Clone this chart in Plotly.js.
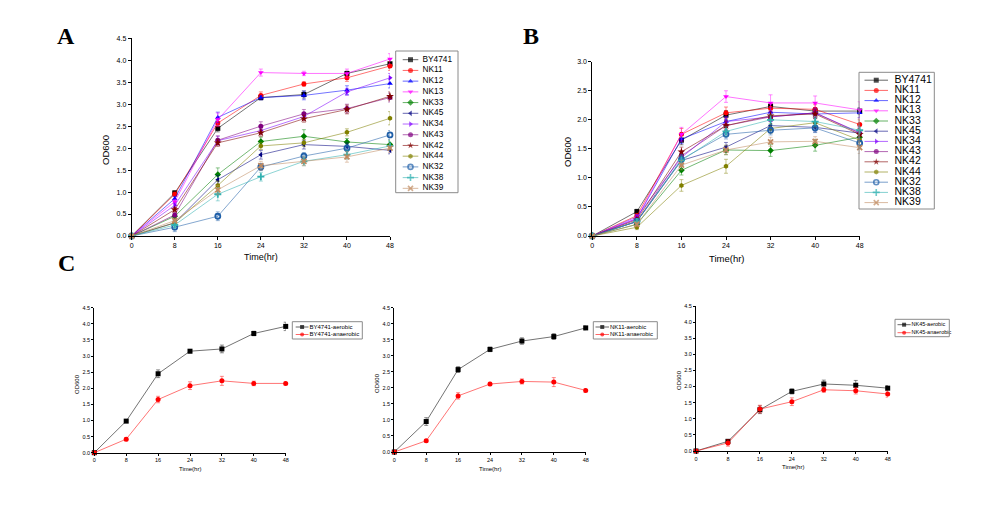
<!DOCTYPE html>
<html>
<head>
<meta charset="utf-8">
<script src="https://cdn.plot.ly/plotly-3.0.1.min.js"></script>
<style>html,body{margin:0;padding:0;background:#fff;}#chart{width:993px;height:507px;}</style>
</head>
<body>
<div id="chart"></div>
<script>
// ---------- DATA ----------
const times = [0, 8, 16, 24, 32, 40, 48];
const strains = ['BY4741','NK11','NK12','NK13','NK33','NK45','NK34','NK43','NK42','NK44','NK32','NK38','NK39'];

// Panel A (aerobic) OD600
const A_BY4741 = [0, 0.98, 2.45, 3.15, 3.22, 3.70, 3.92];
const A_NK11   = [0, 0.95, 2.57, 3.20, 3.46, 3.60, 3.87];
const A_NK12   = [0, 0.85, 2.70, 3.15, 3.20, 3.32, 3.47];
const A_NK13   = [0, 0.78, 2.65, 3.72, 3.70, 3.70, 4.03];
const A_NK33   = [0, 0.45, 1.40, 2.15, 2.27, 2.14, 2.08];
const A_NK45   = [0, 0.30, 1.28, 1.85, 2.08, 2.04, 1.95];
const A_NK34   = [0, 0.70, 2.17, 2.40, 2.72, 3.28, 3.60];
const A_NK43   = [0, 0.48, 2.18, 2.50, 2.78, 2.90, 3.15];
const A_NK42   = [0, 0.60, 2.12, 2.35, 2.67, 2.88, 3.18];
const A_NK44   = [0, 0.30, 1.15, 2.05, 2.12, 2.36, 2.68];
const A_NK32   = [0, 0.20, 0.45, 1.57, 1.82, 2.00, 2.30];
const A_NK38   = [0, 0.25, 0.95, 1.35, 1.70, 1.85, 2.05];
const A_NK39   = [0, 0.35, 1.05, 1.60, 1.70, 1.80, 2.00];
const A_err = [
  [0,0.05,0.08,0.05,0.08,0.05,0.10],
  [0,0.05,0.08,0.08,0.05,0.08,0.10],
  [0,0.05,0.12,0.05,0.10,0.10,0.10],
  [0,0.05,0.15,0.08,0.05,0.10,0.12],
  [0,0.05,0.15,0.10,0.15,0.08,0.10],
  [0,0.05,0.10,0.10,0.10,0.08,0.08],
  [0,0.05,0.10,0.08,0.08,0.08,0.10],
  [0,0.05,0.10,0.10,0.10,0.10,0.10],
  [0,0.05,0.08,0.08,0.08,0.10,0.10],
  [0,0.05,0.10,0.08,0.08,0.08,0.15],
  [0,0.10,0.10,0.08,0.08,0.08,0.10],
  [0,0.05,0.15,0.10,0.10,0.10,0.10],
  [0,0.05,0.10,0.10,0.10,0.12,0.10]
];

// Panel B (anaerobic) OD600
const B_BY4741 = [0, 0.42, 1.65, 2.08, 2.23, 2.15, 2.15];
const B_NK11   = [0, 0.35, 1.75, 2.12, 2.20, 2.18, 1.92];
const B_NK12   = [0, 0.30, 1.67, 1.97, 2.13, 2.10, 2.12];
const B_NK13   = [0, 0.30, 1.75, 2.40, 2.29, 2.29, 2.17];
const B_NK33   = [0, 0.20, 1.13, 1.48, 1.47, 1.56, 1.70];
const B_NK45   = [0, 0.25, 1.30, 1.53, 1.90, 1.87, 1.77];
const B_NK34   = [0, 0.33, 1.35, 1.97, 2.05, 2.12, 1.78];
const B_NK43   = [0, 0.25, 1.38, 1.90, 2.05, 2.12, 1.77];
const B_NK42   = [0, 0.28, 1.45, 1.90, 2.07, 2.10, 1.75];
const B_NK44   = [0, 0.15, 0.87, 1.20, 1.85, 1.95, 1.65];
const B_NK32   = [0, 0.25, 1.32, 1.75, 1.82, 1.86, 1.60];
const B_NK38   = [0, 0.25, 1.30, 1.80, 2.00, 1.97, 1.82];
const B_NK39   = [0, 0.20, 1.22, 1.48, 1.62, 1.63, 1.52];
const B_err = [
  [0,0.04,0.08,0.08,0.05,0.06,0.06],
  [0,0.04,0.10,0.10,0.08,0.08,0.08],
  [0,0.04,0.08,0.08,0.08,0.08,0.08],
  [0,0.04,0.12,0.10,0.14,0.12,0.14],
  [0,0.04,0.08,0.08,0.10,0.10,0.08],
  [0,0.04,0.08,0.08,0.08,0.08,0.08],
  [0,0.04,0.08,0.08,0.08,0.08,0.10],
  [0,0.04,0.08,0.08,0.08,0.08,0.10],
  [0,0.04,0.08,0.08,0.08,0.08,0.10],
  [0,0.04,0.10,0.12,0.08,0.08,0.10],
  [0,0.04,0.08,0.08,0.08,0.08,0.10],
  [0,0.04,0.08,0.08,0.08,0.08,0.08],
  [0,0.04,0.08,0.08,0.08,0.08,0.10]
];

// Panel C: aerobic vs anaerobic for three strains
const C_strains = ['BY4741', 'NK11', 'NK45'];
const C_aer = [A_BY4741, A_NK11, A_NK45];
const C_ana = [B_BY4741, B_NK11, B_NK45];
const C_aer_err = [[0,0.03,0.12,0.05,0.12,0.07,0.13],[0,0.12,0.09,0.07,0.10,0.09,0.06],[0,0.03,0.12,0.08,0.12,0.15,0.08]];
const C_ana_err = [[0,0.05,0.10,0.12,0.14,0.07,0.05],[0,0.04,0.10,0.05,0.08,0.14,0.06],[0,0.10,0.12,0.12,0.08,0.10,0.10]];

const A_series = [A_BY4741,A_NK11,A_NK12,A_NK13,A_NK33,A_NK45,A_NK34,A_NK43,A_NK42,A_NK44,A_NK32,A_NK38,A_NK39];
const B_series = [B_BY4741,B_NK11,B_NK12,B_NK13,B_NK33,B_NK45,B_NK34,B_NK43,B_NK42,B_NK44,B_NK32,B_NK38,B_NK39];

// ---------- STYLE ----------
const colors = ['#000000','#FF0000','#0000FF','#FF00FF','#008000','#000080','#8000FF','#800080','#800000','#808000','#1F5FA8','#30B0B0','#C08A60'];
const symbols = ['square','circle','triangle-up','triangle-down','diamond','triangle-left','triangle-right','circle','star','hexagon','circle-open','cross-thin-open','x-thin-open'];
const FONT = 'Liberation Sans, Arial, sans-serif';
const W = 993, H = 507;
function rgba(hex, a){const n=parseInt(hex.slice(1),16);return `rgba(${(n>>16)&255},${(n>>8)&255},${n&255},${a})`;}
function px(x){return x/W;} function py(y){return 1-y/H;}

const traces = [];
function addSeries(xa, ya, y, err, color, symbol, size, name){
  const open = symbol.indexOf('open')>=0;
  traces.push({
    x: times, y: y, xaxis: xa, yaxis: ya, type:'scatter', mode:'lines+markers', name: name,
    showlegend:false, cliponaxis:false,
    line:{color: rgba(color,0.55), width:1},
    marker:{symbol: symbol, size: size, color: color, line:{color: color, width: open?1.8:0}},
    error_y:{type:'data', array: err, visible:true, color: rgba(color,0.45), thickness:1, width:2}
  });
}
strains.forEach((s,i)=> addSeries('x','y',A_series[i],A_err[i],colors[i],symbols[i], symbols[i]==='star'?6:5, s));
strains.forEach((s,i)=> addSeries('x2','y2',B_series[i],B_err[i],colors[i],symbols[i], symbols[i]==='star'?6:5, s));
const cAxes = [['x3','y3'],['x4','y4'],['x5','y5']];
C_strains.forEach((s,k)=>{
  addSeries(cAxes[k][0], cAxes[k][1], C_aer[k], C_aer_err[k], '#000000', 'square', 5, s+'-aerobic');
  addSeries(cAxes[k][0], cAxes[k][1], C_ana[k], C_ana_err[k], '#FF0000', 'circle', 5, s+'-anaerobic');
});

// ---------- custom legends (overlay axis in pixel coordinates) ----------
const shapes = [];
function legend(names, cols, syms, box, x0, x1, xt, ytop, step, fs, msize){
  shapes.push({type:'rect', xref:'paper', yref:'paper', x0:px(box[0]), x1:px(box[1]), y0:py(box[3]), y1:py(box[2]), line:{color:'#8a8a8a', width:1}, fillcolor:'rgba(0,0,0,0)'});
  names.forEach((n,i)=>{
    const yy = ytop + i*step;
    const open = syms[i].indexOf('open')>=0;
    traces.push({x:[x0,(x0+x1)/2,x1], y:[yy,yy,yy], xaxis:'x6', yaxis:'y6', type:'scatter', mode:'lines+markers', showlegend:false, hoverinfo:'skip', cliponaxis:false,
      line:{color: rgba(cols[i],0.6), width:1},
      marker:{symbol: syms[i], size:[0,msize,0], color: cols[i], line:{color: cols[i], width: open?1.6:0}}});
  });
  traces.push({x: names.map(()=>xt), y: names.map((n,i)=>ytop+i*step), text: names, xaxis:'x6', yaxis:'y6', type:'scatter', mode:'text', textposition:'middle right', showlegend:false, hoverinfo:'skip', cliponaxis:false,
    textfont:{family: FONT, size: fs, color:'#000'}});
}
legend(strains, colors, symbols, [395.7,458,51,192.7], 402.7, 418.3, 422.5, 59.7, 10.72, 8.3, 5);
legend(strains, colors, symbols, [859,934.3,72.3,209], 864.5, 888, 894.5, 80.2, 10.2, 10.5, 5);
legend(C_strains.slice(0,1).flatMap(s=>[s+'-aerobic', s+'-anaerobic']), ['#000000','#FF0000'], ['square','circle'], [292.3,362.3,321.7,339], 295.7, 308.5, 309.5, 327, 7.5, 6, 4);
legend(['NK11-aerobic','NK11-anaerobic'], ['#000000','#FF0000'], ['square','circle'], [593.3,657.3,321.7,339], 595.5, 609, 610, 327, 7.5, 6, 4);
legend(['NK45-aerobic','NK45-anaerobic'], ['#000000','#FF0000'], ['square','circle'], [895,949.3,319.3,336.7], 897.5, 910.7, 911.5, 324.7, 8, 5.5, 4);

// ---------- axes ----------
function xAx(d0,d1,anchor,fs,tl){return {domain:[px(d0),px(d1)], anchor:anchor, range:[0,48], tickmode:'array', tickvals:times, ticktext:times.map(String),
  showline:true, linecolor:'#000', linewidth:1, ticks:'outside', ticklen:tl, tickwidth:1, tickcolor:'#000', showgrid:false, zeroline:false,
  tickfont:{family:FONT, size:fs, color:'#000'}, fixedrange:true, automargin:false};}
function yAx(top,bot,anchor,ymax,fs,tl){return {domain:[py(bot),py(top)], anchor:anchor, range:[0,ymax], tickmode:'linear', tick0:0, dtick:0.5, tickformat:'.1f',
  showline:true, linecolor:'#000', linewidth:1, ticks:'outside', ticklen:tl, tickwidth:1, tickcolor:'#000', showgrid:false, zeroline:false,
  tickfont:{family:FONT, size:fs, color:'#000'}, fixedrange:true, automargin:false};}

function ann(text,x,y,fs,opts){return Object.assign({text:text, xref:'paper', yref:'paper', x:px(x), y:py(y), showarrow:false, xanchor:'center', yanchor:'middle', font:{family:FONT, size:fs, color:'#000'}}, opts||{});}
const annotations = [
  ann('<b>A</b>', 66, 36, 24, {font:{family:'Liberation Serif, Times New Roman, serif', size:24, color:'#000'}}),
  ann('<b>B</b>', 531, 36, 24, {font:{family:'Liberation Serif, Times New Roman, serif', size:24, color:'#000'}}),
  ann('<b>C</b>', 66, 263, 24, {font:{family:'Liberation Serif, Times New Roman, serif', size:24, color:'#000'}}),
  ann('Time(hr)', 261, 257, 9), ann('OD600', 106, 150, 9.5, {textangle:-90}),
  ann('Time(hr)', 727, 258, 9.5), ann('OD600', 567, 152, 9.5, {textangle:-90}),
  ann('Time(hr)', 190, 469, 6), ann('OD600', 77, 384, 6, {textangle:-90}),
  ann('Time(hr)', 490, 469, 6), ann('OD600', 377, 383, 6, {textangle:-90}),
  ann('Time(hr)', 793, 467, 6), ann('OD600', 679, 380, 6, {textangle:-90})
];

const layout = {
  width: W, height: H, margin:{l:0,r:0,t:0,b:0,pad:0}, showlegend:false,
  paper_bgcolor:'#fff', plot_bgcolor:'rgba(0,0,0,0)',
  xaxis: xAx(131.7,390,'y',7,3), yaxis: yAx(38.3,236,'x',4.5,7,3),
  xaxis2: xAx(592.3,859.7,'y2',7,3), yaxis2: yAx(61.7,236,'x2',3.0,7,3),
  xaxis3: xAx(94.3,285.7,'y3',5.5,2), yaxis3: yAx(307.7,452.7,'x3',4.5,5.5,2),
  xaxis4: xAx(394.3,585.7,'y4',5.5,2), yaxis4: yAx(307.7,452,'x4',4.5,5.5,2),
  xaxis5: xAx(696,887.7,'y5',5.5,2), yaxis5: yAx(306,451,'x5',4.5,5.5,2),
  xaxis6: {domain:[0,1], anchor:'y6', range:[0,W], visible:false, fixedrange:true},
  yaxis6: {domain:[0,1], anchor:'x6', range:[H,0], visible:false, fixedrange:true},
  shapes: shapes, annotations: annotations
};
Plotly.newPlot('chart', traces, layout, {staticPlot:true, displayModeBar:false});
</script>
</body>
</html>
